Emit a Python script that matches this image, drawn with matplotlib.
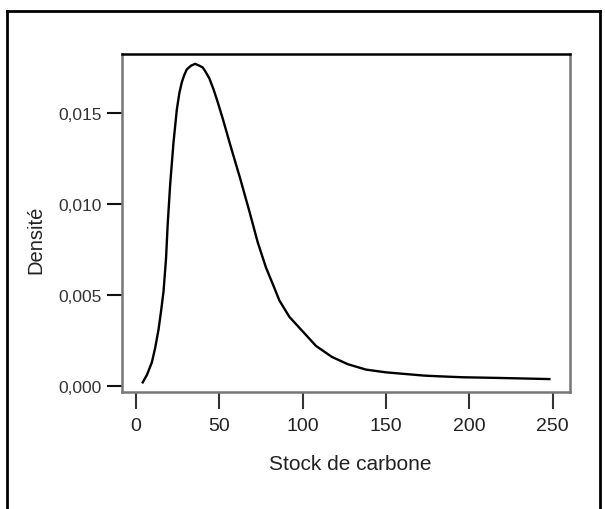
import matplotlib
matplotlib.use("Agg")
import matplotlib.pyplot as plt
from matplotlib.lines import Line2D

plt.rcParams['font.family'] = ['Liberation Sans', 'DejaVu Sans']

# Densité estimée du stock de carbone
stock = [4, 6.5, 9.5, 11.5, 13.5, 15, 16.5, 18, 19, 20.5, 22.5, 24.5, 26,
         27.5, 29, 30.5, 33, 35.5, 38, 40, 41.5, 44, 46.5, 49, 52, 57, 62.5,
         68, 73, 78, 82.5, 86, 92, 99, 108, 117.5, 127, 138, 150, 161.5, 173,
         185, 196, 208, 219, 234, 248]
densite = [0.0002, 0.0006, 0.0013, 0.0021, 0.0031, 0.0041, 0.0052, 0.0070,
           0.0089, 0.0111, 0.0134, 0.0152, 0.0161, 0.0167, 0.0171, 0.0174,
           0.0176, 0.0177, 0.0176, 0.0175, 0.0173, 0.0169, 0.0163, 0.0156,
           0.0147, 0.0131, 0.0114, 0.0096, 0.0079, 0.0065, 0.0055, 0.0047,
           0.0038, 0.0031, 0.0022, 0.0016, 0.0012, 0.0009, 0.00075, 0.00066,
           0.00057, 0.00052, 0.00048, 0.00046, 0.00044, 0.00041, 0.00038]

xticks = [0, 50, 100, 150, 200, 250]
yticks = [0.000, 0.005, 0.010, 0.015]
ytick_labels = ['0,000', '0,005', '0,010', '0,015']

fig = plt.figure(figsize=(6.05, 5.10), dpi=100)
ax = fig.add_axes([0.2017, 0.2294, 0.7405, 0.6627])

ax.plot(stock, densite, color='black', linewidth=1.7)

ax.set_xlim(-8.4, 260.4)
ax.set_ylim(-0.00033, 0.01824)
ax.set_xticks(xticks)
ax.set_xticklabels([str(t) for t in xticks])
ax.set_yticks(yticks)
ax.set_yticklabels(ytick_labels)

ax.tick_params(axis='x', direction='out', length=12, width=1.5, pad=6,
               labelsize=14, labelcolor='#222222', color='#333333')
ax.tick_params(axis='y', direction='out', length=11, width=1.5, pad=3.5,
               labelsize=12.5, labelcolor='#333333', color='#111111')

for side in ['left', 'bottom', 'right']:
    ax.spines[side].set_color('#777777')
    ax.spines[side].set_linewidth(1.8)
ax.spines['top'].set_color('black')
ax.spines['top'].set_linewidth(1.8)

ax.set_xlabel('Stock de carbone', fontsize=15, color='#222222')
ax.set_ylabel('Densité', fontsize=14.5, color='#222222')
ax.xaxis.set_label_coords(0.509, -0.183)
ax.yaxis.set_label_coords(-0.172, 0.453)

# cadre extérieur
fig.add_artist(Line2D([6.5 / 605, 6.5 / 605], [0, 1 - 11.5 / 510],
                      transform=fig.transFigure, color='black', linewidth=2))
fig.add_artist(Line2D([6.5 / 605, 600 / 605], [1 - 11.5 / 510, 1 - 11.5 / 510],
                      transform=fig.transFigure, color='black', linewidth=2))
fig.add_artist(Line2D([600 / 605, 600 / 605], [0, 1 - 11.5 / 510],
                      transform=fig.transFigure, color='black', linewidth=2))

fig.savefig('out.png', dpi=100)
